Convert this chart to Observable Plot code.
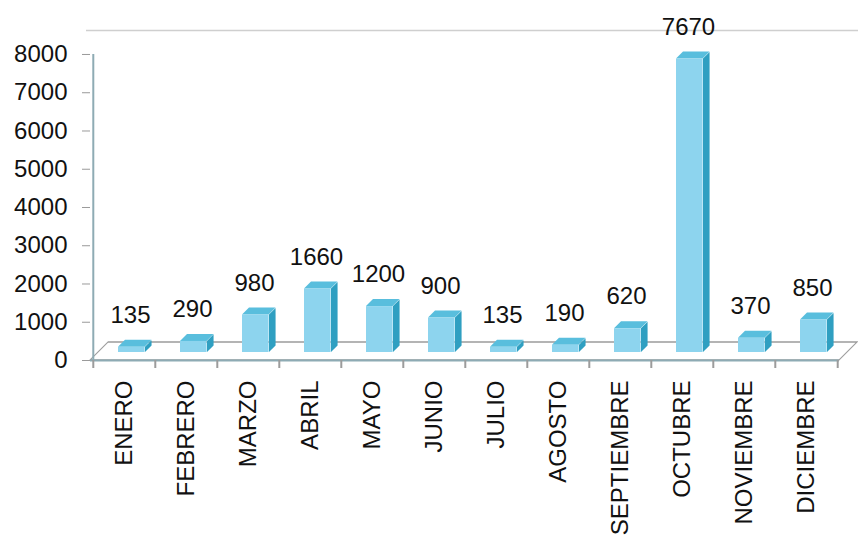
<!DOCTYPE html>
<html>
<head>
<meta charset="utf-8">
<script src="https://cdn.jsdelivr.net/npm/d3@7"></script>
<script src="https://cdn.jsdelivr.net/npm/@observablehq/plot@0.6"></script>
<style>
  html, body { margin: 0; padding: 0; background: #fff; }
  #chart { width: 858px; height: 544px; }
  svg g[aria-label="y-axis tick"], svg g[aria-label="y-axis"] line { stroke: #9a9a9a; }
</style>
</head>
<body>
<div id="chart"></div>
<script>
const months = ["ENERO","FEBRERO","MARZO","ABRIL","MAYO","JUNIO","JULIO","AGOSTO","SEPTIEMBRE","OCTUBRE","NOVIEMBRE","DICIEMBRE"];
const values = [135, 290, 980, 1660, 1200, 900, 135, 190, 620, 7670, 370, 850];
const yTicks = [0, 1000, 2000, 3000, 4000, 5000, 6000, 7000, 8000];
const yTop = 8627;

const data = months.map((m, i) => ({mes: m, valor: values[i]}));

const W = 858, H = 544, ML = 90, MR = 19, MT = 30, MB = 184;
const bw = (W - ML - MR) / months.length;
const FRONT = "#8dd4ee", TOP = "#59bedd", SIDE = "#2f9fc1";
const AXIS = "#8eabb4", GRAY = "#9c9c9c";

const chart = Plot.plot({
  width: W, height: H,
  marginLeft: ML, marginRight: MR, marginTop: MT, marginBottom: MB,
  style: {fontFamily: "'Liberation Sans', Arial, sans-serif", fontSize: "24px", color: "#111", background: "#fff"},
  x: {domain: months, padding: 0, tickRotate: -90, tickSize: 0, tickPadding: 20, label: null},
  y: {domain: [0, yTop], ticks: yTicks, tickSize: 8, tickPadding: 15, tickFormat: d => String(d), label: null},
  marks: [
    Plot.ruleY([yTop], {stroke: "#cfcfcf", strokeWidth: 1.5, insetLeft: -4, insetRight: -MR}),
    Plot.rect([0], {y1: 0, y2: 0, insetTop: -18, fill: "#fff", stroke: GRAY, strokeWidth: 1.5}),
    Plot.barY(data, {x: "mes", y: "valor", fill: SIDE, insetLeft: 52, insetRight: bw - 59, dy: -8}),
    Plot.barY(data, {x: "mes", y1: "valor", y2: "valor", insetTop: -7, fill: TOP, insetLeft: 25, insetRight: bw - 52, dy: -8}),
    Plot.barY(data, {x: "mes", y: "valor", fill: FRONT, insetLeft: 25, insetRight: bw - 52, dy: -8}),
    Plot.ruleY([0], {stroke: AXIS, strokeWidth: 2}),
    Plot.ruleX([months[0]], {y1: 0, y2: yTicks[yTicks.length - 1], dx: -bw / 2, stroke: AXIS, strokeWidth: 2}),
    Plot.ruleX(months, {y1: 0, y2: 0, insetBottom: -8, dx: -bw / 2, stroke: GRAY, strokeWidth: 2}),
    Plot.ruleX([months[months.length - 1]], {y1: 0, y2: 0, insetBottom: -8, dx: bw / 2, stroke: GRAY, strokeWidth: 2}),
    Plot.text(data, {x: "mes", y: "valor", text: d => String(d.valor), dy: -40, dx: 6, fontSize: 24, fill: "#111"})
  ]
});

// give the 3D faces their slant
chart.querySelectorAll(`g[fill="${SIDE}"] rect`).forEach(r => {
  const x = +r.getAttribute("x");
  r.setAttribute("transform", `translate(${x},0) skewY(-45) translate(${-x},0)`);
});
chart.querySelectorAll(`g[fill="${TOP}"] rect`).forEach(r => {
  const y0 = +r.getAttribute("y") + +r.getAttribute("height");
  r.setAttribute("transform", `translate(0,${y0}) skewX(-45) translate(0,${-y0})`);
});
chart.querySelectorAll(`g[fill="#fff"] rect`).forEach(r => {
  const y0 = +r.getAttribute("y") + +r.getAttribute("height");
  r.setAttribute("transform", `translate(0,${y0}) skewX(-45) translate(0,${-y0})`);
});

document.getElementById("chart").appendChild(chart);
</script>
</body>
</html>
